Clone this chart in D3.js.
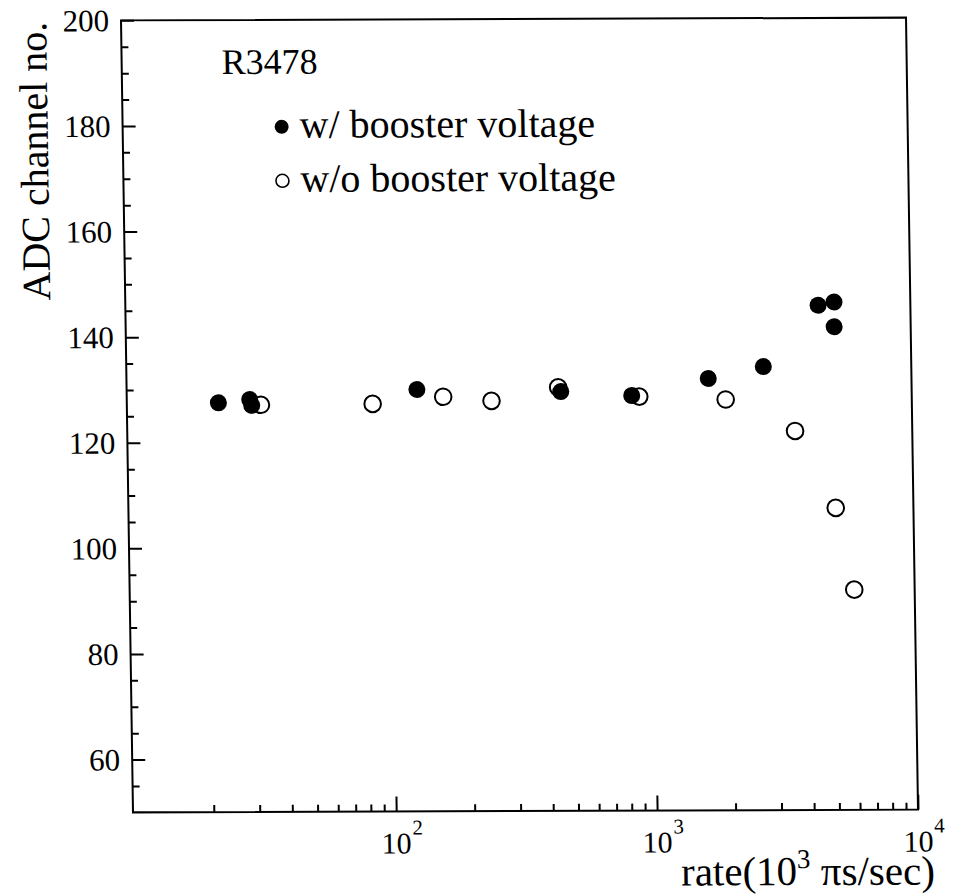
<!DOCTYPE html>
<html>
<head>
<meta charset="utf-8">
<script src="https://cdn.jsdelivr.net/npm/d3@7"></script>
<style>
  html, body { margin: 0; padding: 0; background: #fff; }
  svg text { font-family: "Liberation Serif", "Times New Roman", serif; fill: #000; }
</style>
</head>
<body>
<div id="grafica"></div>
<script>
// ==============================
// DATOS
// ==============================

// con voltaje booster (círculos llenos)
const tasaCon = [22.0, 29.0, 29.5, 127, 452, 845, 1664, 2709, 4429, 5100, 5090];
const adcCon  = [127.5, 128.1, 127.0, 129.9, 129.4, 128.6, 131.8, 134.0, 145.6, 146.2, 141.5];

// sin voltaje booster (círculos vacíos)
const tasaSin = [32.0, 85.8, 160, 245, 442, 903, 1935, 3555, 5038, 5868];
const adcSin  = [127.1, 127.2, 128.5, 127.7, 130.2, 128.4, 127.8, 121.8, 107.2, 91.7];

const ticksY = [60, 80, 100, 120, 140, 160, 180, 200];
const ticksX = [100, 1000, 10000];
const exponentesX = ["2", "3", "4"];
const etiquetaR = "R3478";
const leyenda = ["w/ booster voltage", "w/o booster voltage"];

// ==============================
// SVG BASE
// ==============================

const W = 954, H = 895;
const izq = 133, der = 918, arriba = 19, abajo = 811;

const svg = d3.select("#grafica").append("svg")
  .attr("width", W)
  .attr("height", H)
  .attr("font-family", "'Liberation Serif', 'Times New Roman', serif");

// la figura original está escaneada un poco torcida
const k = 0.01515, b = -0.0035;
const g = svg.append("g")
  .attr("transform", `matrix(1,${b},${k},1,${-k * abajo},${-b * 525})`);

const x = d3.scaleLog().domain([9.8, 1e4]).range([izq, der]);
const y = d3.scaleLinear().domain([50, 200]).range([abajo, arriba]);

// ==============================
// EJES
// ==============================

const menoresY = d3.range(55, 200, 5).filter(v => v % 20 !== 0);
const menoresX = [];
[10, 100, 1000].forEach(d => {
  for (let i = 2; i <= 9; i++) menoresX.push(d * i);
});

function limpiar(sel) {
  sel.select(".domain").remove();
  sel.selectAll(".tick line").attr("stroke", "#000").attr("stroke-width", 2);
}

g.append("g")
  .attr("transform", `translate(${izq},0)`)
  .call(d3.axisRight(y).tickValues(ticksY).tickSize(13).tickFormat(""))
  .call(limpiar);

g.append("g")
  .attr("transform", `translate(${izq},0)`)
  .call(d3.axisRight(y).tickValues(menoresY).tickSize(7).tickFormat(""))
  .call(limpiar);

g.append("g")
  .attr("transform", `translate(0,${abajo})`)
  .call(d3.axisTop(x).tickValues(ticksX).tickSize(15).tickFormat(""))
  .call(limpiar);

g.append("g")
  .attr("transform", `translate(0,${abajo})`)
  .call(d3.axisTop(x).tickValues(menoresX).tickSize(7).tickFormat(""))
  .call(limpiar);

// marco
g.append("rect")
  .attr("x", izq)
  .attr("y", arriba)
  .attr("width", der - izq)
  .attr("height", abajo - arriba)
  .attr("fill", "none")
  .attr("stroke", "#000")
  .attr("stroke-width", 2);

// etiquetas eje Y
g.selectAll(".etq-y")
  .data(ticksY)
  .join("text")
  .attr("class", "etq-y")
  .attr("x", izq - 12)
  .attr("y", d => y(d))
  .attr("dy", "0.35em")
  .attr("text-anchor", "end")
  .style("font-size", "31px")
  .text(d => d);

// etiquetas eje X (10^n)
ticksX.forEach((v, i) => {
  g.append("text")
    .attr("x", x(v))
    .attr("y", 853)
    .attr("text-anchor", "middle")
    .style("font-size", "30px")
    .text("10");
  g.append("text")
    .attr("x", x(v) + 16)
    .attr("y", 834)
    .style("font-size", "21px")
    .text(exponentesX[i]);
});

// títulos
g.append("text")
  .attr("transform", "translate(58,20) rotate(-90)")
  .attr("text-anchor", "end")
  .style("font-size", "40px")
  .text("ADC channel no.");

const tituloX = g.append("text")
  .attr("x", 934)
  .attr("y", 886)
  .attr("text-anchor", "end")
  .style("font-size", "41px");
tituloX.append("tspan").text("rate(10");
tituloX.append("tspan").attr("dy", -17).style("font-size", "27px").text("3");
tituloX.append("tspan").attr("dy", 17).text(" πs/sec)");

// ==============================
// PUNTOS
// ==============================

g.selectAll(".sin")
  .data(tasaSin.map((t, i) => [t, adcSin[i]]))
  .join("circle")
  .attr("class", "sin")
  .attr("cx", d => x(d[0]))
  .attr("cy", d => y(d[1]))
  .attr("r", 8.3)
  .attr("fill", "#fff")
  .attr("stroke", "#000")
  .attr("stroke-width", 2);

g.selectAll(".con")
  .data(tasaCon.map((t, i) => [t, adcCon[i]]))
  .join("circle")
  .attr("class", "con")
  .attr("cx", d => x(d[0]))
  .attr("cy", d => y(d[1]))
  .attr("r", 8.5)
  .attr("fill", "#000");

// ==============================
// LEYENDA
// ==============================

g.append("text")
  .attr("x", 233)
  .attr("y", 73)
  .style("font-size", "36px")
  .text(etiquetaR);

const itemsLeyenda = g.selectAll(".item")
  .data(leyenda)
  .join("g")
  .attr("class", "item")
  .attr("transform", (d, i) => `translate(292,${126 + i * 54})`);

itemsLeyenda.append("circle")
  .attr("r", (d, i) => i === 0 ? 7 : 6.5)
  .attr("fill", (d, i) => i === 0 ? "#000" : "#fff")
  .attr("stroke", "#000")
  .attr("stroke-width", (d, i) => i === 0 ? 0 : 1.6);

itemsLeyenda.append("text")
  .attr("x", 18)
  .attr("y", 11)
  .style("font-size", "40px")
  .text(d => d);
</script>
</body>
</html>
